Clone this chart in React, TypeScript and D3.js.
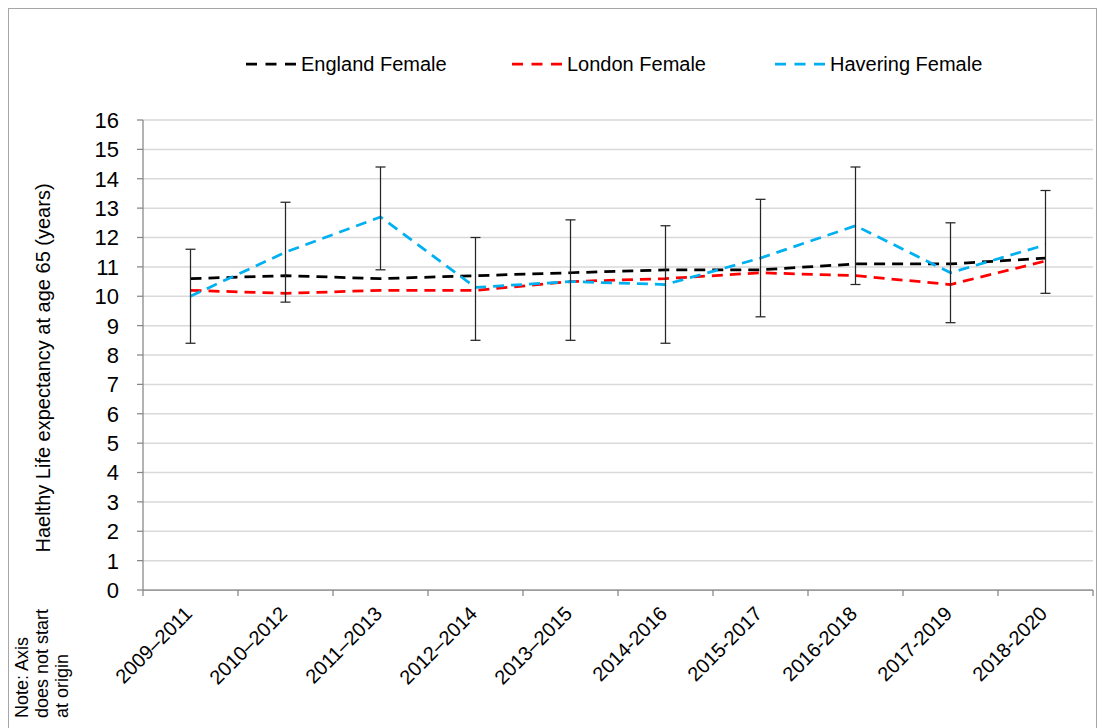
import React from "react";
import * as d3 from "d3";

const categories = ["2009–2011", "2010–2012", "2011–2013", "2012–2014", "2013–2015", "2014-2016", "2015-2017", "2016-2018", "2017-2019", "2018-2020"];
const englandFemale = [10.6, 10.7, 10.6, 10.7, 10.8, 10.9, 10.9, 11.1, 11.1, 11.3];
const londonFemale = [10.2, 10.1, 10.2, 10.2, 10.5, 10.6, 10.8, 10.7, 10.4, 11.2];
const haveringFemale = [10.0, 11.5, 12.7, 10.3, 10.5, 10.4, 11.3, 12.4, 10.8, 11.75];
const haveringLower = [8.4, 9.8, 10.9, 8.5, 8.5, 8.4, 9.3, 10.4, 9.1, 10.1];
const haveringUpper = [11.6, 13.2, 14.4, 12.0, 12.6, 12.4, 13.3, 14.4, 12.5, 13.6];
const yTicks = d3.range(0, 17, 1);

const series = [
  { name: "England Female", values: englandFemale, color: "#000000" },
  { name: "London Female", values: londonFemale, color: "#ff0000" },
  { name: "Havering Female", values: haveringFemale, color: "#00b0f0" },
];

const W = 1103;
const H = 728;
const left = 143;
const right = 1093;
const top = 120;
const bottom = 590;
const FONT = "'Liberation Sans', Arial, sans-serif";

export default function App() {
  const x = d3.scaleBand<string>().domain(categories).range([left, right]).padding(0);
  const y = d3.scaleLinear().domain([0, 16]).range([bottom, top]);
  const cx = (c: string) => (x(c) as number) + x.bandwidth() / 2;
  const line = d3
    .line<number>()
    .x((_, i) => cx(categories[i]))
    .y((v) => y(v));
  const boundaries = categories.map((c) => x(c) as number).concat([right]);
  const legendX = [246, 512, 775];

  return (
    <svg
      width={W}
      height={H}
      style={{ position: "absolute", left: 0, top: 0, background: "#fff" }}
      fontFamily={FONT}
    >
      <rect x={8.5} y={8.5} width={1088} height={760} fill="#fff" stroke="#a6a6a6" strokeWidth={1} />

      {/* gridlines */}
      {yTicks.map((t) => (
        <line key={"g" + t} x1={left} x2={right} y1={y(t)} y2={y(t)} stroke="#d9d9d9" strokeWidth={1.5} />
      ))}

      {/* y axis */}
      <line x1={left} x2={left} y1={top} y2={bottom} stroke="#868686" strokeWidth={1.25} />
      {yTicks.map((t) => (
        <g key={"yt" + t}>
          <line x1={left - 6} x2={left} y1={y(t)} y2={y(t)} stroke="#868686" strokeWidth={1.25} />
          <text x={119} y={y(t)} dy="0.36em" textAnchor="end" fontSize={22} fill="#000">
            {t}
          </text>
        </g>
      ))}

      {/* x axis */}
      <line x1={left} x2={right} y1={bottom} y2={bottom} stroke="#868686" strokeWidth={1.25} />
      {boundaries.map((b, i) => (
        <line key={"xt" + i} x1={b} x2={b} y1={bottom} y2={bottom + 6} stroke="#868686" strokeWidth={1.25} />
      ))}
      {categories.map((c) => (
        <text
          key={"xl" + c}
          transform={`translate(${cx(c) - 2},${bottom + 20}) rotate(-45)`}
          textAnchor="end"
          dy="0.35em"
          fontSize={20}
          fill="#000"
        >
          {c}
        </text>
      ))}

      {/* y axis title */}
      <text transform={`translate(50,368) rotate(-90)`} textAnchor="middle" fontSize={20} fill="#000">
        Haelthy Life expectancy at age 65 (years)
      </text>

      {/* note */}
      {["Note: Axis", "does not start", "at origin"].map((s, i) => (
        <text key={"n" + i} transform={`translate(${28 + i * 20},718) rotate(-90)`} textAnchor="start" fontSize={18} fill="#000">
          {s}
        </text>
      ))}

      {/* lines */}
      {series.map((s) => (
        <path
          key={s.name}
          d={line(s.values) as string}
          fill="none"
          stroke={s.color}
          strokeWidth={2.75}
          strokeDasharray="11,7"
        />
      ))}

      {/* error bars */}
      {categories.map((c, i) => {
        const xc = cx(c);
        return (
          <g key={"eb" + i} stroke="#262626" strokeWidth={1.25}>
            <line x1={xc} x2={xc} y1={y(haveringUpper[i])} y2={y(haveringLower[i])} />
            <line x1={xc - 5} x2={xc + 5} y1={y(haveringUpper[i])} y2={y(haveringUpper[i])} />
            <line x1={xc - 5} x2={xc + 5} y1={y(haveringLower[i])} y2={y(haveringLower[i])} />
          </g>
        );
      })}

      {/* legend */}
      {series.map((s, i) => (
        <g key={"lg" + i}>
          <line
            x1={legendX[i]}
            x2={legendX[i] + 50}
            y1={64}
            y2={64}
            stroke={s.color}
            strokeWidth={2.75}
            strokeDasharray="11,8.5"
          />
          <text x={legendX[i] + 55} y={64} dy="0.36em" fontSize={20} fill="#000">
            {s.name}
          </text>
        </g>
      ))}
    </svg>
  );
}
